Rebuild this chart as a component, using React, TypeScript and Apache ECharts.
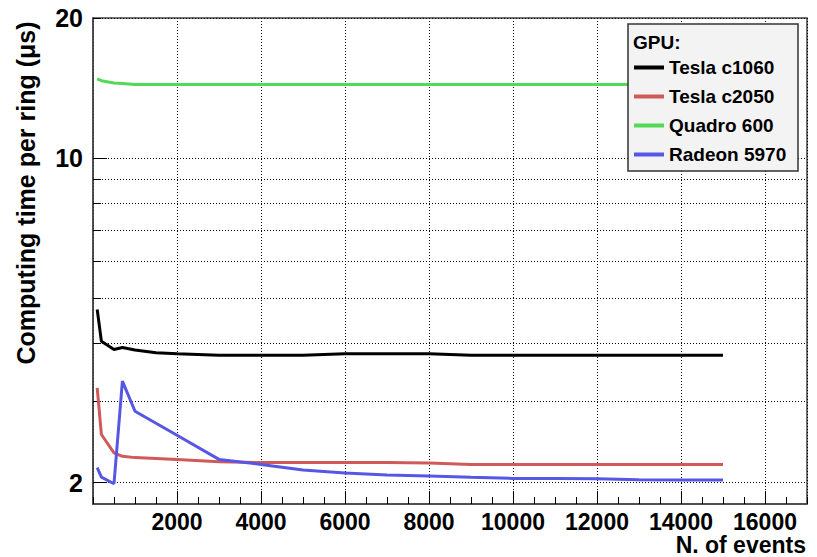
import React, { useEffect, useRef } from "react";
import * as echarts from "echarts";

// ---- data ----
const N_EVENTS = [100, 200, 500, 700, 1000, 1500, 2000, 3000, 4000, 5000, 6000, 7000, 8000, 9000, 10000, 11000, 12000, 13000, 14000, 15000];
const TESLA_C1060 = [4.72, 4.03, 3.87, 3.91, 3.86, 3.81, 3.79, 3.76, 3.76, 3.76, 3.79, 3.79, 3.79, 3.76, 3.76, 3.76, 3.76, 3.76, 3.76, 3.76];
const TESLA_C2050 = [3.2, 2.54, 2.32, 2.28, 2.265, 2.255, 2.245, 2.22, 2.21, 2.21, 2.21, 2.21, 2.205, 2.19, 2.19, 2.19, 2.19, 2.19, 2.19, 2.19];
const QUADRO_600 = [14.8, 14.66, 14.5, 14.46, 14.38, 14.38, 14.38, 14.38, 14.38, 14.38, 14.38, 14.38, 14.38, 14.38, 14.38, 14.38, 14.38, 14.38, 14.38, 14.38];
const RADEON_5970 = [2.155, 2.056, 1.99, 3.31, 2.85, 2.685, 2.53, 2.245, 2.19, 2.13, 2.1, 2.077, 2.067, 2.054, 2.043, 2.043, 2.04, 2.03, 2.028, 2.028];

const SERIES_NAMES = ["Tesla c1060", "Tesla c2050", "Quadro 600", "Radeon 5970"];
const SERIES_VALUES = [TESLA_C1060, TESLA_C2050, QUADRO_600, RADEON_5970];
const SERIES_COLORS = ["#000000", "#d05a5a", "#55d855", "#5757e6"];

const Y_MIN = 1.8;
const Y_MAX = 20;
const Y_TICKS = [2, 3, 4, 5, 6, 7, 8, 9, 10, 20];
const Y_MAJOR_TICKS = [2, 10];
const Y_LABELS = [2, 10, 20];
const X_MIN = 0;
const X_MAX = 17000;
const X_MAJOR = 2000;
const X_MINOR = 500;

const FONT = "'Liberation Sans', Arial, Helvetica, sans-serif";

export default function App() {
  const ref = useRef<HTMLDivElement>(null);
  useEffect(() => {
    if (!ref.current) return;
    const chart = echarts.init(ref.current, null, { renderer: "svg" });
    const lg = (v: number) => Math.log10(v);
    const grid = { left: 93, top: 18, right: 10, bottom: 53, containLabel: false, show: true, borderColor: "#444", borderWidth: 1.5, backgroundColor: "#fff" };
    const option: any = {
      animation: false,
      backgroundColor: "#ffffff",
      grid,
      xAxis: [
        {
          type: "value",
          min: X_MIN,
          max: X_MAX,
          interval: X_MAJOR,
          position: "bottom",
          axisLine: { show: true, lineStyle: { color: "#444", width: 1.5 } },
          axisTick: { show: true, inside: true, length: 13, lineStyle: { color: "#000", width: 1 } },
          axisLabel: {
            show: true,
            showMinLabel: false,
            showMaxLabel: false,
            formatter: (v: number) => String(v),
            margin: 6,
            color: "#000",
            fontFamily: FONT,
            fontWeight: "bold",
            fontSize: 23,
          },
          splitLine: { show: true, lineStyle: { color: "#000", type: [1, 2], width: 1 } },
        },
        {
          type: "value",
          min: X_MIN,
          max: X_MAX,
          interval: X_MINOR,
          position: "bottom",
          axisLine: { show: false },
          axisTick: { show: true, inside: true, length: 7, lineStyle: { color: "#000", width: 1 } },
          axisLabel: { show: false },
          splitLine: { show: false },
        },
      ],
      yAxis: [
        {
          type: "value",
          min: lg(Y_MIN),
          max: lg(Y_MAX),
          position: "left",
          axisLine: { show: true, lineStyle: { color: "#444", width: 1.5 } },
          axisTick: { show: true, inside: true, length: 8, customValues: Y_TICKS.map(lg), lineStyle: { color: "#000", width: 1 } },
          axisLabel: {
            show: true,
            customValues: Y_LABELS.map(lg),
            formatter: (v: number) => String(Math.round(Math.pow(10, v))),
            margin: 10,
            color: "#000",
            fontFamily: FONT,
            fontWeight: "bold",
            fontSize: 25,
          },
          splitLine: { show: true, lineStyle: { color: "#000", type: [1, 2], width: 1 } },
        },
        {
          type: "value",
          min: lg(Y_MIN),
          max: lg(Y_MAX),
          position: "left",
          axisLine: { show: false },
          axisTick: { show: true, inside: true, length: 14, customValues: Y_MAJOR_TICKS.map(lg), lineStyle: { color: "#000", width: 1 } },
          axisLabel: { show: false },
          splitLine: { show: false },
        },
      ],
      legend: {
        data: SERIES_NAMES,
        orient: "vertical",
        left: 634,
        top: 58,
        padding: 0,
        itemGap: 10,
        itemWidth: 30,
        itemHeight: 4,
        icon: "rect",
        selectedMode: false,
        z: 6,
        textStyle: { color: "#000", fontFamily: FONT, fontWeight: "bold", fontSize: 19 },
      },
      series: SERIES_NAMES.map((name, si) => ({
        name,
        type: "line",
        xAxisIndex: 0,
        yAxisIndex: 0,
        showSymbol: false,
        symbol: "none",
        z: 2,
        color: SERIES_COLORS[si],
        lineStyle: { color: SERIES_COLORS[si], width: 3 },
        data: N_EVENTS.map((n, i) => [n, lg(SERIES_VALUES[si][i])]),
      })),
      graphic: [
        {
          type: "rect",
          z: 4,
          shape: { x: 628, y: 24, width: 170, height: 147 },
          style: { fill: "#f3f3f3", stroke: "#333", lineWidth: 1.5 },
        },
        {
          type: "text",
          z: 6,
          x: 633,
          y: 42,
          style: { text: "GPU:", fill: "#000", font: `bold 19px ${FONT}`, textAlign: "left", textVerticalAlign: "middle" },
        },
        {
          type: "text",
          z: 6,
          x: 26,
          y: 193,
          rotation: Math.PI / 2,
          style: { text: "Computing time per ring (μs)", fill: "#000", font: `bold 25px ${FONT}`, textAlign: "center", textVerticalAlign: "middle" },
        },
        {
          type: "text",
          z: 6,
          x: 806,
          y: 545,
          style: { text: "N. of events", fill: "#000", font: `bold 23px ${FONT}`, textAlign: "right", textVerticalAlign: "middle" },
        },
      ],
    };
    chart.setOption(option);
    return () => chart.dispose();
  }, []);
  return <div ref={ref} style={{ position: "fixed", left: 0, top: 0, width: 817, height: 557 }} />;
}
